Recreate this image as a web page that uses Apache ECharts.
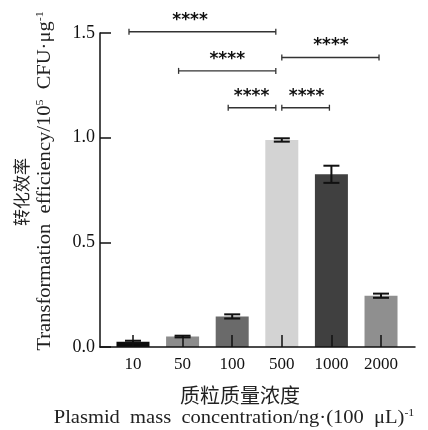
<!DOCTYPE html>
<html>
<head>
<meta charset="utf-8">
<script src="https://cdn.jsdelivr.net/npm/echarts@6/dist/echarts.min.js"></script>
<style>
html, body { margin: 0; background: #fff; }
#chart { width: 428px; height: 430px; }
</style>
</head>
<body>
<div id="chart"></div>
<script>
var concs = ['10', '50', '100', '500', '1000', '2000'];
var means = [0.025, 0.05, 0.146, 0.989, 0.825, 0.245];
var errs = [0.005, 0.004, 0.01, 0.008, 0.041, 0.01];
var yTicks = [0, 0.5, 1.0, 1.5];
// significance brackets: from bar, to bar, height, where the stars sit
var sigFrom = [0, 1, 2, 3, 3];
var sigTo = [3, 3, 3, 5, 4];
var sigLevel = [1.506, 1.319, 1.143, 1.383, 1.143];
var sigLabelX = [1.15, 1.9, 2.39, 3.99, 3.5];
var sigText = ['****', '****', '****', '****', '****'];

var barColors = ['#0c0c0c', '#8c8c8c', '#6a6a6a', '#d3d3d3', '#404040', '#8f8f8f'];
var serif = '"Liberation Serif", "Times New Roman", serif';
var cjk = '"Noto Sans CJK SC", sans-serif';
var idx = concs.map(function (c, i) { return i; });

var chart = echarts.init(document.getElementById('chart'));

var supStyle = { fontSize: 11, fontFamily: serif, padding: [0, 0, 10, 0], fill: '#222' };

var option = {
    backgroundColor: '#fff',
    animation: false,
    grid: { left: 100, right: 13, top: 33, bottom: 83 },
    xAxis: {
        type: 'value',
        min: -0.665,
        max: 5.685,
        z: 10,
        splitLine: { show: false },
        axisLine: { show: true, onZero: false, lineStyle: { color: '#111', width: 1.5 } },
        axisTick: { show: true, inside: true, length: 12, customValues: idx, lineStyle: { color: '#111', width: 1.5 } },
        axisLabel: {
            customValues: idx,
            formatter: function (v) { return concs[v]; },
            fontFamily: serif,
            fontSize: 17,
            color: '#111',
            margin: 9
        }
    },
    yAxis: {
        type: 'value',
        min: 0,
        max: 1.5,
        interval: 0.5,
        z: 10,
        splitLine: { show: false },
        axisLine: { show: true, onZero: false, lineStyle: { color: '#111', width: 1.5 } },
        axisTick: { show: true, inside: true, length: 11, lineStyle: { color: '#111', width: 1.5 } },
        axisLabel: {
            customValues: yTicks,
            formatter: function (v) { return v.toFixed(1); },
            fontFamily: serif,
            fontSize: 18,
            color: '#111',
            margin: 5
        }
    },
    graphic: [
        {
            type: 'text', x: 22, y: 192, rotation: Math.PI / 2,
            style: { text: '转化效率', font: '17px ' + cjk, fill: '#222', align: 'center', verticalAlign: 'middle' }
        },
        {
            type: 'text', x: 45, y: 181, rotation: Math.PI / 2, scaleX: 1.08,
            style: {
                text: 'Transformation  efficiency/10{sup|5}  CFU·μg{sup|-1}',
                font: '19px ' + serif, fill: '#222', align: 'center', verticalAlign: 'middle',
                rich: { sup: supStyle }
            }
        },
        {
            type: 'text', x: 240, y: 395,
            style: { text: '质粒质量浓度', font: '20px ' + cjk, fill: '#222', align: 'center', verticalAlign: 'middle' }
        },
        {
            type: 'text', x: 234, y: 418, scaleX: 1.08,
            style: {
                text: 'Plasmid  mass  concentration/ng·(100  μL){sup|-1}',
                font: '19px ' + serif, fill: '#222', align: 'center', verticalAlign: 'middle',
                rich: { sup: supStyle }
            }
        }
    ],
    series: [
        {
            type: 'bar',
            barWidth: 33,
            data: means.map(function (v, i) {
                return { value: [i, v], itemStyle: { color: barColors[i] } };
            })
        },
        {
            type: 'custom',
            z: 5,
            encode: { x: 0, y: [1, 2] },
            data: means.map(function (v, i) { return [i, v - errs[i], v + errs[i]]; }),
            renderItem: function (params, api) {
                var x = api.value(0);
                var lo = api.coord([x, api.value(1)]);
                var hi = api.coord([x, api.value(2)]);
                var w = 8;
                var st = { stroke: '#111', lineWidth: 2 };
                return {
                    type: 'group',
                    children: [
                        { type: 'line', shape: { x1: lo[0], y1: lo[1], x2: hi[0], y2: hi[1] }, style: st },
                        { type: 'line', shape: { x1: hi[0] - w, y1: hi[1], x2: hi[0] + w, y2: hi[1] }, style: st },
                        { type: 'line', shape: { x1: lo[0] - w, y1: lo[1], x2: lo[0] + w, y2: lo[1] }, style: st }
                    ]
                };
            }
        },
        {
            type: 'custom',
            z: 6,
            encode: { x: [0, 1, 3], y: 2 },
            data: sigFrom.map(function (f, i) { return [f, sigTo[i], sigLevel[i], sigLabelX[i], sigText[i]]; }),
            renderItem: function (params, api) {
                var lev = api.value(2);
                var a = api.coord([api.value(0), lev]);
                var b = api.coord([api.value(1), lev]);
                var t = api.coord([api.value(3), lev]);
                var x1, x2;
                if (api.value(1) === 3) { x1 = a[0] - 4; x2 = b[0] - 6; }
                else { x1 = a[0]; x2 = b[0] - 2; }
                var y = a[1];
                var st = { stroke: '#333', lineWidth: 1.3 };
                return {
                    type: 'group',
                    children: [
                        { type: 'line', shape: { x1: x1, y1: y, x2: x2, y2: y }, style: st },
                        { type: 'line', shape: { x1: x1, y1: y - 3, x2: x1, y2: y + 3 }, style: st },
                        { type: 'line', shape: { x1: x2, y1: y - 3, x2: x2, y2: y + 3 }, style: st },
                        {
                            type: 'text', x: t[0], y: y - 3,
                            style: { text: api.value(4), font: 'bold 17px "DejaVu Sans", sans-serif', fill: '#111', align: 'center', verticalAlign: 'bottom' }
                        }
                    ]
                };
            }
        }
    ]
};

chart.setOption(option);
</script>
</body>
</html>
